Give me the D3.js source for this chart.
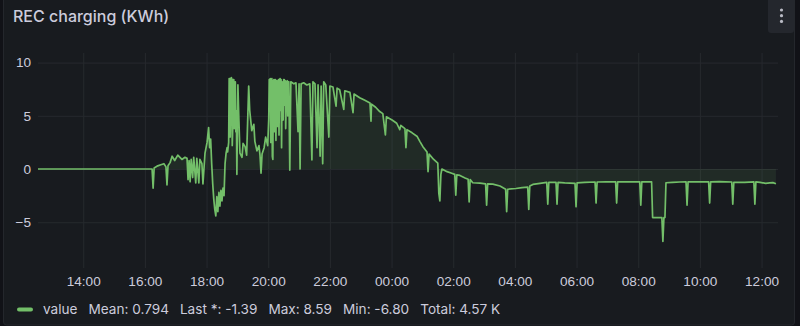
<!DOCTYPE html>
<html>
<head>
<meta charset="utf-8">
<title>REC charging</title>
<script src="https://cdn.jsdelivr.net/npm/d3@7/dist/d3.min.js"></script>
<style>
	body { margin: 0; background: #111217; font-family: Inter, "Noto Sans", sans-serif; }
	#chart-area { width: 800px; height: 326px; }
	.axis text { fill: rgb(204, 204, 220); font-size: 13.6px; }
</style>
</head>
<body>
<div id="chart-area"></div>
<script>

// Series (local time, rolls over midnight)
var times = [
	"12:32","16:14","16:16","16:18","16:25","16:31","16:37","16:41","16:43","16:45",
	"16:49","16:53","16:58","17:04","17:12","17:18","17:22","17:24","17:26","17:28",
	"17:30","17:33","17:35","17:39","17:41","17:45","17:47","17:51","17:53","17:57",
	"18:01","18:04","18:06","18:08","18:10","18:12","18:14","18:16","18:18","18:20",
	"18:22","18:24","18:26","18:28","18:30","18:32","18:34","18:36","18:38","18:40",
	"18:41","18:43","18:44","18:45","18:46","18:47","18:48","18:49","18:50","18:51",
	"18:52","18:53","18:54","18:55","18:56","18:57","18:58","18:59","19:01","19:03",
	"19:05","19:09","19:11","19:15","19:18","19:22","19:24","19:28","19:32","19:34",
	"19:38","19:42","19:44","19:46","19:48","19:52","19:55","19:59","20:01","20:02",
	"20:03","20:04","20:05","20:06","20:07","20:08","20:09","20:10","20:11","20:12",
	"20:13","20:14","20:15","20:16","20:17","20:18","20:19","20:20","20:21","20:22",
	"20:23","20:24","20:25","20:26","20:27","20:28","20:29","20:30","20:31","20:32",
	"20:33","20:34","20:35","20:36","20:37","20:38","20:39","20:40","20:42","20:44",
	"20:50","20:54","20:58","21:00","21:02","21:04","21:09","21:15","21:21","21:25",
	"21:27","21:31","21:35","21:37","21:41","21:43","21:46","21:48","21:52","21:58",
	"22:00","22:06","22:12","22:14","22:19","22:27","22:29","22:39","22:45","22:47",
	"22:58","23:08","23:18","23:20","23:21","23:29","23:37","23:43","23:48","23:50",
	"00:01","00:10","00:16","00:18","00:26","00:28","00:30","00:40","00:50","00:55",
	"01:01","01:09","01:11","01:13","01:22","01:30","01:32","01:34","01:36","01:38",
	"01:48","01:57","02:03","02:05","02:07","02:13","02:23","02:29","02:31","02:33",
	"02:38","02:52","03:03","03:05","03:07","03:17","03:31","03:42","03:44","03:46",
	"04:02","04:14","04:25","04:27","04:29","04:35","04:49","05:02","05:04","05:06",
	"05:20","05:22","05:24","05:37","05:57","05:59","06:01","06:16","06:36","06:38",
	"06:40","06:57","07:16","07:18","07:20","07:40","08:03","08:05","08:07","08:26",
	"08:28","08:46","08:48","08:50","08:52","08:54","09:07","09:21","09:33","09:35",
	"09:37","09:50","10:17","10:19","10:21","10:38","11:02","11:04","11:06","11:27",
	"11:45","11:47","11:49","11:57","12:08","12:16","12:22","12:28"
];

var values = [
	0, 0, -1.8, 0.1, 0.3, 0.4, 0.5, 0.2, -1.5, 0.3,
	0.6, 1.2, 0.8, 1.3, 0.9, 1.1, 1.0, -1.0, 0.8, -1.2,
	0.9, -0.8, 1.1, -1.3, 1.0, -1.3, 0.9, 0.5, -1.4, 1.5,
	2.5, 3.9, 2.0, 2.8, 0.5, -1.4, -2.8, -3.8, -4.4, -2.6,
	-4.0, -2.2, -3.5, -2.0, -3.0, -1.8, -2.5, 0.5, 1.5, 2.0,
	1.6, 2.5, 8.5, 8.5, 3.0, 6.0, 8.6, 8.5, 2.2, 4.0,
	8.4, 8.4, 3.8, 5.0, 8.2, 3.5, 5.5, -0.5, 7.9, 4.5,
	1.5, 1.1, 2.4, 2.1, 1.3, 7.8, 5.5, 3.6, 4.2, 2.6,
	1.7, 2.2, 1.3, -0.4, 1.4, 2.0, 3.0, 2.2, 4.7, 8.4,
	6.0, 8.5, 2.5, 8.4, 8.5, 1.2, 0.9, 8.3, 8.4, 3.5,
	5.0, 8.4, 2.7, 8.2, 8.3, 4.0, 7.0, 8.4, 3.2, 8.3,
	8.5, 5.5, 8.4, 2.0, 8.2, 7.5, 4.6, 8.4, 8.4, 6.0,
	8.3, 3.8, 6.5, 8.2, 8.3, 5.0, 8.1, 8.2, -0.1, 8.2,
	8.0, 8.1, 3.5, 8.0, 0.0, 8.0, 8.1, 7.9, 8.0, 0.85,
	8.2, 8.0, 2.0, 7.9, 1.2, 7.8, 0.5, 8.2, 7.9, 3.0,
	7.8, 7.7, 5.9, 7.6, 7.45, 5.6, 7.35, 7.2, 5.3, 7.05,
	6.7, 6.45, 6.2, 4.5, 6.1, 5.8, 5.4, 5.2, 3.2, 4.9,
	4.6, 4.3, 3.7, 4.1, 3.8, 2.0, 3.7, 3.4, 3.05, 2.6,
	2.1, 1.6, -0.25, 1.4, 0.9, 0.55, -2.3, -3.0, -0.5, 0.0,
	-0.25, -0.4, -0.5, -2.45, -0.55, -0.6, -0.85, -0.97, -3.1, -1.0,
	-1.29, -1.32, -1.4, -3.4, -1.4, -1.42, -1.6, -1.9, -4.0, -1.9,
	-1.83, -1.75, -1.7, -3.8, -1.6, -1.45, -1.35, -1.26, -3.3, -1.25,
	-1.25, -3.3, -1.25, -1.3, -1.35, -3.55, -1.3, -1.25, -1.22, -3.2,
	-1.22, -1.2, -1.2, -3.2, -1.2, -1.2, -1.2, -3.4, -1.2, -1.2,
	-4.56, -4.56, -6.8, -4.56, -4.56, -1.29, -1.25, -1.22, -1.2, -3.4,
	-1.2, -1.2, -1.2, -3.2, -1.2, -1.18, -1.22, -3.3, -1.25, -1.25,
	-1.2, -3.3, -1.2, -1.25, -1.35, -1.3, -1.28, -1.39
];

var timeRange = ["12:32", "12:32"];
var xTickLabels = ["14:00","16:00","18:00","20:00","22:00","00:00","02:00","04:00","06:00","08:00","10:00","12:00"];
var yTicks = [-5, 0, 5, 10];
var yRange = [-9.3, 10.9];

var title = "REC charging (KWh)";
var seriesName = "value";
var legendStats = ["Mean: 0.794", "Last *: -1.39", "Max: 8.59", "Min: -6.80", "Total: 4.57 K"];


/*
 * TimeSeriesPanel - Grafana-like panel with one series
 */

TimeSeriesPanel = function(_parentElement){
	this.parentElement = _parentElement;
	this.initVis();
}

TimeSeriesPanel.prototype.initVis = function(){
	var vis = this;

	vis.width = 800;
	vis.height = 326;
	vis.plot = { left: 38, right: 778, top: 53, bottom: 268 };
	vis.green = "#73bf69";
	vis.textColor = "rgb(204, 204, 220)";
	vis.gridColor = "#26292e";

	vis.svg = d3.select("#" + vis.parentElement).append("svg")
			.attr("width", vis.width)
			.attr("height", vis.height);

	// panel frame
	vis.svg.append("rect")
			.attr("x", 3.5).attr("y", -4)
			.attr("width", 791).attr("height", 329)
			.attr("rx", 3)
			.attr("fill", "#181b1f")
			.attr("stroke", "#24272c");

	// menu button
	vis.svg.append("rect")
			.attr("x", 768).attr("y", -4)
			.attr("width", 26).attr("height", 37)
			.attr("rx", 3)
			.attr("fill", "#24272d");
	vis.svg.selectAll(".menu-dot").data([10, 15.7, 21.4])
		.enter().append("circle")
			.attr("class", "menu-dot")
			.attr("cx", 781.5)
			.attr("cy", function(d) { return d; })
			.attr("r", 1.6)
			.attr("fill", "#b9bac4");

	vis.svg.append("text")
			.attr("x", 13).attr("y", 22)
			.attr("fill", vis.textColor)
			.style("font-size", "16px")
			.style("font-weight", 500)
			.text(title);

	vis.wrangleData();
}

TimeSeriesPanel.prototype.wrangleData = function(){
	var vis = this;

	var parse = d3.timeParse("%Y-%m-%d %H:%M");
	var day = 1, prev = -1;
	vis.displayData = times.map(function(t, i) {
		var mins = +t.slice(0, 2) * 60 + +t.slice(3);
		if (mins < prev) day++;
		prev = mins;
		return { date: parse("2024-05-0" + day + " " + t), value: values[i] };
	});

	vis.start = parse("2024-05-01 " + timeRange[0]);
	vis.end = parse("2024-05-02 " + timeRange[1]);
	// labels before 12:32 belong to the second day
	vis.xTicks = xTickLabels.map(function(t) {
		var d = +t.slice(0, 2) <= 12 ? "2024-05-02 " : "2024-05-01 ";
		return parse(d + t);
	});

	vis.updateVis();
}

TimeSeriesPanel.prototype.updateVis = function(){
	var vis = this;

	vis.x = d3.scaleTime()
			.domain([vis.start, vis.end])
			.range([vis.plot.left, vis.plot.right]);

	vis.y = d3.scaleLinear()
			.domain(yRange)
			.range([vis.plot.bottom, vis.plot.top]);

	// grid lines
	var xGrid = d3.axisBottom(vis.x)
			.tickValues(vis.xTicks)
			.tickSize(-(vis.plot.bottom - vis.plot.top))
			.tickFormat(d3.timeFormat("%H:%M"))
			.tickPadding(8);

	var yGrid = d3.axisLeft(vis.y)
			.tickValues(yTicks)
			.tickSize(-(vis.plot.right - vis.plot.left))
			.tickPadding(7);

	var gx = vis.svg.append("g")
			.attr("class", "x-axis axis")
			.attr("transform", "translate(0," + vis.plot.bottom + ")")
			.call(xGrid);

	var gy = vis.svg.append("g")
			.attr("class", "y-axis axis")
			.attr("transform", "translate(" + vis.plot.left + ",0)")
			.call(yGrid);

	[gx, gy].forEach(function(g) {
		g.select(".domain").remove();
		g.selectAll("line").attr("stroke", vis.gridColor);
	});
	gx.selectAll("text").attr("dy", "0.71em");

	// fill to zero, then line
	var area = d3.area()
			.x(function(d) { return vis.x(d.date); })
			.y0(vis.y(0))
			.y1(function(d) { return vis.y(d.value); });

	var line = d3.line()
			.x(function(d) { return vis.x(d.date); })
			.y(function(d) { return vis.y(d.value); });

	vis.svg.append("path")
			.datum(vis.displayData)
			.attr("d", area)
			.attr("fill", vis.green)
			.attr("fill-opacity", 0.1);

	vis.svg.append("path")
			.datum(vis.displayData)
			.attr("d", line)
			.attr("fill", "none")
			.attr("stroke", vis.green)
			.attr("stroke-width", 1.7)
			.attr("stroke-linejoin", "round");

	// legend
	var legend = vis.svg.append("g").attr("class", "legend");
	legend.append("rect")
			.attr("x", 17).attr("y", 307.5)
			.attr("width", 16).attr("height", 4)
			.attr("rx", 2)
			.attr("fill", vis.green);

	var xPos = 43;
	[seriesName].concat(legendStats).forEach(function(s) {
		var t = legend.append("text")
				.attr("x", xPos).attr("y", 314)
				.attr("fill", vis.textColor)
				.style("font-size", "13.6px")
				.text(s);
		xPos += t.node().getComputedTextLength() + 11;
	});
}

new TimeSeriesPanel("chart-area");

</script>
</body>
</html>
